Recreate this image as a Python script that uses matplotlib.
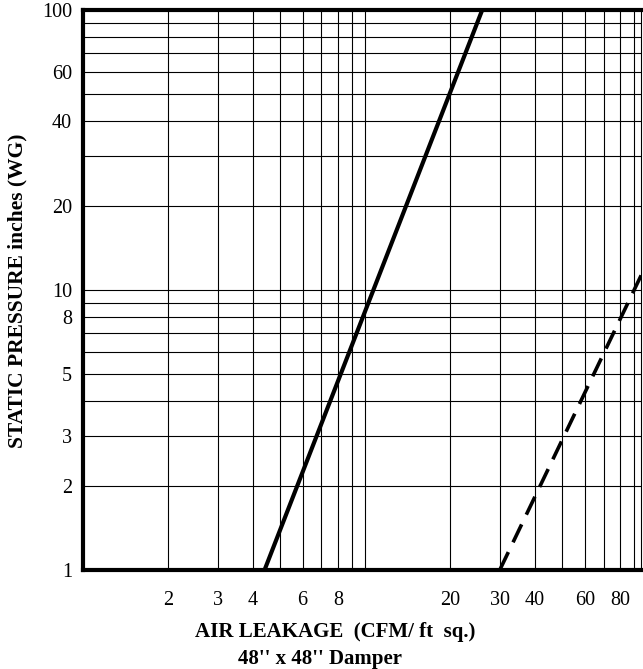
import matplotlib
matplotlib.use('Agg')
import matplotlib.pyplot as plt
import numpy as np

plt.rcParams['font.family'] = ['Liberation Serif', 'DejaVu Serif']

# leakage lines (CFM/ft sq. vs inches WG)
solid_x = [4.4, 26.0]
solid_y = [1.0, 100.0]
dashed_x = [30.0, 96.0]
dashed_y = [1.0, 11.5]

x_ticks = [2, 3, 4, 6, 8, 20, 30, 40, 60, 80]
y_ticks = [1, 2, 3, 5, 8, 10, 20, 40, 60, 100]
grid_vals = [m * 10 ** e for e in (0, 1) for m in range(1, 10)] + [100]

fig = plt.figure(figsize=(6.43, 6.69), dpi=100)
ax = fig.add_axes([83 / 643, 1 - 570 / 669, (641 - 83) / 643, (570 - 10) / 669])

ax.set_xscale('log')
ax.set_yscale('log')
ax.set_xlim(1, 95)
ax.set_ylim(1, 100)

for v in grid_vals:
    ax.axvline(v, color='black', lw=0.8, zorder=1)
    ax.axhline(v, color='black', lw=0.8, zorder=1)

ax.plot(solid_x, solid_y, color='black', lw=3, solid_capstyle='butt', zorder=3)
ax.plot(dashed_x, dashed_y, color='black', lw=2.6, dashes=(5.5, 3), zorder=3)

ax.set_xticks(x_ticks)
ax.set_xticklabels([str(t) for t in x_ticks])
ax.set_yticks(y_ticks)
ax.set_yticklabels([str(t) for t in y_ticks])
ax.xaxis.set_minor_locator(matplotlib.ticker.NullLocator())
ax.yaxis.set_minor_locator(matplotlib.ticker.NullLocator())
ax.tick_params(axis='both', length=0, labelsize=14.5)
ax.tick_params(axis='x', pad=15)
ax.tick_params(axis='y', pad=8)

for s in ('left', 'bottom', 'top'):
    ax.spines[s].set_linewidth(3)
ax.spines['right'].set_linewidth(0.8)

fig.text(335 / 643, 1 - 637 / 669, "AIR LEAKAGE  (CFM/ ft  sq.)", ha='center', va='baseline',
         fontsize=15, fontweight='bold')
fig.text(320 / 643, 1 - 664 / 669, "48'' x 48'' Damper", ha='center', va='baseline',
         fontsize=15, fontweight='bold')
fig.text(17 / 643, 1 - 291 / 669, "STATIC PRESSURE inches (WG)", ha='center', va='center',
         rotation=90, fontsize=15.5, fontweight='bold')

fig.savefig('out.png', dpi=100)
